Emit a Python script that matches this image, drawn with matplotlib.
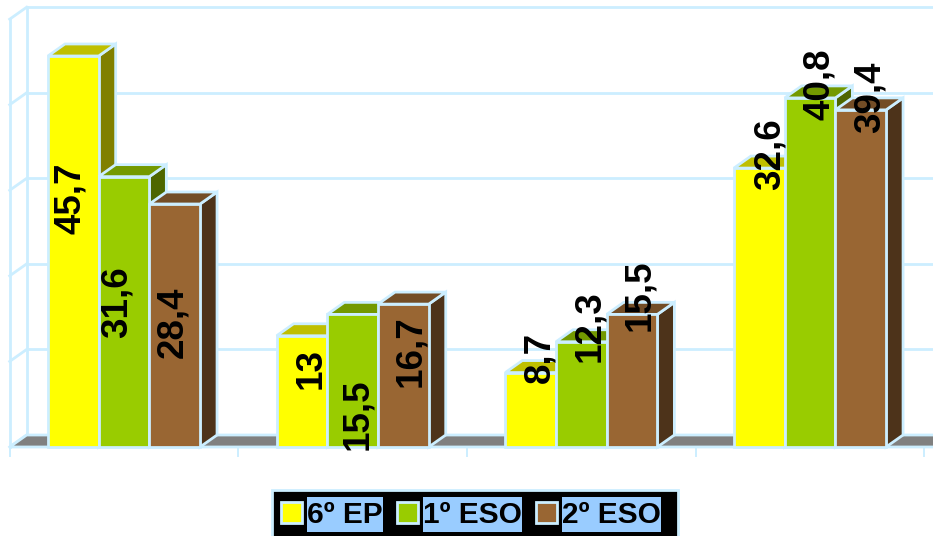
#!/usr/bin/env python3
"""Fake-3D grouped bars: 6º EP, 1º ESO, 2º ESO."""

import matplotlib
matplotlib.use("Agg")
import matplotlib.pyplot as plt
from matplotlib.colors import to_rgb
from matplotlib.patches import Patch, Polygon, Rectangle
from matplotlib.path import Path

series_names = ["6º EP", "1º ESO", "2º ESO"]
series_values = [
    [45.7, 13, 8.7, 32.6],
    [31.6, 15.5, 12.3, 40.8],
    [28.4, 16.7, 15.5, 39.4],
]
value_labels = [
    ["45,7", "13", "8,7", "32,6"],
    ["31,6", "15,5", "12,3", "40,8"],
    ["28,4", "16,7", "15,5", "39,4"],
]
colors = ["#ffff00", "#99cc00", "#996633"]
grid_values = [0, 10, 20, 30, 40, 50]

LINE = "#cceeff"
LW = 2.0
PX_PER_UNIT = 8.556
PX_PER_CAT = 228.67
BASE_PX = 447
FIRST_CENTER_PX = 124
BAR_W = 50.7 / PX_PER_CAT
DX = 17 / PX_PER_CAT    # depth offset of the back wall
DY = 12 / PX_PER_UNIT

# label centres relative to the top centre of the bar, in pixels (right, down)
label_shift = [
    [(-3, 142), (9, 33), (9, -15), (11, -14)],
    [(-7, 125), (5, 100), (8, -16), (9, -14)],
    [(-2, 118), (7, 47), (8, -19), (9, -13)],
]


def shade(color, k):
    return tuple(c * k for c in to_rgb(color))


def tall_box(x0, y0, width, height, mutation_size):
    # text background padded only above and below
    pad = 0.12 * mutation_size
    y0, y1 = y0 - pad, y0 + height + pad
    x1 = x0 + width
    return Path([(x0, y0), (x1, y0), (x1, y1), (x0, y1), (x0, y0)], closed=True)


plt.rcParams["font.family"] = ["Liberation Sans", "DejaVu Sans"]

fig = plt.figure(figsize=(9.33, 5.36), dpi=100)
ax = fig.add_axes([0, 0, 1, 1])
ax.set_xlim(-FIRST_CENTER_PX / PX_PER_CAT, (933 - FIRST_CENTER_PX) / PX_PER_CAT)
ax.set_ylim((BASE_PX - 536) / PX_PER_UNIT, BASE_PX / PX_PER_UNIT)
ax.axis("off")

x_left = -0.5
x_right = 4.0

# back wall grid and left wall
for g in grid_values:
    ax.plot([x_left + DX, x_right], [g + DY, g + DY], color=LINE, lw=LW, zorder=1)
    ax.plot([x_left, x_left + DX], [g, g + DY], color=LINE, lw=LW, zorder=1)
ax.plot([x_left, x_left], [0, grid_values[-1]], color=LINE, lw=LW, zorder=1)
ax.plot([x_left + DX, x_left + DX], [DY, grid_values[-1] + DY], color=LINE, lw=LW, zorder=1)

# floor
ax.add_patch(Polygon(
    [(x_left, 0), (x_left + DX, DY), (x_right, DY), (x_right, 0)],
    facecolor="#808080", edgecolor=LINE, lw=LW, zorder=2,
))
for i in range(5):
    ax.plot([i - 0.5, i - 0.5], [-0.1, -1.0], color=LINE, lw=1.4, zorder=2)

# bars, left to right so each one covers the side of the previous one
zo = 3
for c in range(4):
    for s, name in enumerate(series_names):
        v = series_values[s][c]
        x0 = c + (s - 1.5) * BAR_W
        x1 = x0 + BAR_W
        ax.add_patch(Polygon(
            [(x1, 0), (x1 + DX, DY), (x1 + DX, v + DY), (x1, v)],
            facecolor=shade(colors[s], 0.5), edgecolor=LINE, lw=LW, zorder=zo,
        ))
        ax.add_patch(Polygon(
            [(x0, v), (x0 + DX, v + DY), (x1 + DX, v + DY), (x1, v)],
            facecolor=shade(colors[s], 0.75), edgecolor=LINE, lw=LW, zorder=zo,
        ))
        ax.bar(x0, v, width=BAR_W, align="edge", color=colors[s], edgecolor=LINE,
               linewidth=LW, zorder=zo + 0.5)
        zo += 1

# value labels, cut off at the floor line
floor_clip = Rectangle((x_left, 0), x_right - x_left, 60, transform=ax.transData)
for s in range(3):
    for c in range(4):
        v = series_values[s][c]
        cx = c + (s - 1) * BAR_W
        sx, sy = label_shift[s][c]
        t = ax.text(cx + sx / PX_PER_CAT, v - sy / PX_PER_UNIT, value_labels[s][c],
                    rotation=90, ha="center", va="center", fontsize=26.5,
                    fontweight="bold", color="black", zorder=100)
        t.set_clip_path(floor_clip)

# legend box is wider than the legend's own frame would be
ax.add_patch(Rectangle(
    (272 / 933, -4 / 536), 406 / 933, 50 / 536, transform=fig.transFigure,
    facecolor="black", edgecolor=LINE, lw=LW, clip_on=False, zorder=199,
))
handles = [Patch(facecolor=colors[i], edgecolor=LINE, linewidth=LW) for i in range(3)]
leg = ax.legend(
    handles, series_names, ncol=3, loc="lower left",
    bbox_to_anchor=(272 / 933, -1.5 / 536), bbox_transform=fig.transFigure,
    fontsize=21.5, frameon=False, handlelength=0.7, handleheight=0.7, handletextpad=0.17,
    columnspacing=0.48, borderpad=0.3, borderaxespad=0,
)
leg.set_zorder(200)
for txt in leg.get_texts():
    txt.set_fontweight("bold")
    txt.set_color("black")
    txt.set_bbox(dict(boxstyle=tall_box, facecolor="#99ccff", edgecolor="none"))

fig.savefig("out.png", dpi=100, facecolor="white")
